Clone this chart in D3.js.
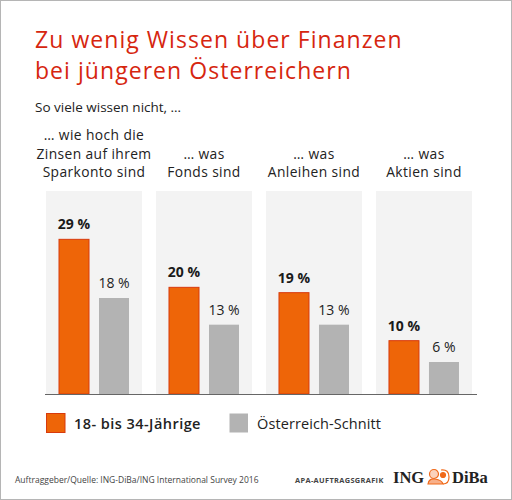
<!DOCTYPE html>
<html><head><meta charset="utf-8">
<script src="https://cdn.jsdelivr.net/npm/d3@7/dist/d3.min.js"></script>
<style>body{margin:0;background:#fff}svg{display:block}</style>
</head><body>
<script>
const categories = [
  ["… wie hoch die","Zinsen auf ihrem","Sparkonto sind"],
  ["… was","Fonds sind"],
  ["… was","Anleihen sind"],
  ["… was","Aktien sind"]
];
const young = [29, 20, 19, 10];
const average = [18, 13, 13, 6];
const seriesNames = ["18- bis 34-Jährige", "Österreich-Schnitt"];

const W = 512, H = 500;
const svg = d3.select("body").append("svg").attr("width", W).attr("height", H);
const font = "'Open Sans', 'Noto Sans', sans-serif";
svg.append("rect").attr("x",0.5).attr("y",0.5).attr("width",W-1).attr("height",H-1)
  .attr("fill","#fff").attr("stroke","#b5b5b5");

svg.append("text").attr("x",35).attr("y",48).attr("font-family",font).attr("font-size",23)
  .attr("letter-spacing",1.05).attr("fill","#d6260f").text("Zu wenig Wissen über Finanzen");
svg.append("text").attr("x",35).attr("y",79).attr("font-family",font).attr("font-size",23)
  .attr("letter-spacing",1.05).attr("fill","#d6260f").text("bei jüngeren Österreichern");
svg.append("text").attr("x",35).attr("y",112).attr("font-family",font).attr("font-size",13.5)
  .attr("fill","#222").text("So viele wissen nicht, …");

const x = d3.scaleBand().domain(d3.range(categories.length)).range([46, 472]).paddingInner(0.127).paddingOuter(0);
const y = d3.scaleLinear().domain([0, 30]).range([394, 234]);
const bw = x.bandwidth();

// column backgrounds
svg.selectAll(".bg").data(categories).join("rect")
  .attr("x",(d,i)=>x(i)).attr("y",191).attr("width",bw).attr("height",y(0)-191).attr("fill","#f3f3f3");

// category labels
categories.forEach((lines,i)=>{
  const cx = x(i)+bw/2;
  const n = lines.length;
  lines.forEach((t,j)=>{
    svg.append("text").attr("x",cx).attr("y",177-(n-1-j)*18.3).attr("text-anchor","middle")
      .attr("font-family",font).attr("font-size",13.8).attr("letter-spacing",0.4).attr("fill","#222").text(t);
  });
});

const barW = 30;
const offY = 13, offA = 53;
svg.selectAll(".by").data(young).join("rect")
  .attr("x",(d,i)=>x(i)+offY).attr("y",d=>y(d)).attr("width",barW).attr("height",d=>y(0)-y(d))
  .attr("fill","#ee6508").attr("stroke","#d83a0c").attr("stroke-width",1);
svg.selectAll(".ba").data(average).join("rect")
  .attr("x",(d,i)=>x(i)+offA).attr("y",d=>y(d)).attr("width",barW).attr("height",d=>y(0)-y(d))
  .attr("fill","#b3b3b3");

svg.selectAll(".ly").data(young).join("text")
  .attr("x",(d,i)=>x(i)+offY+barW/2).attr("y",d=>y(d)-10).attr("text-anchor","middle")
  .attr("font-family",font).attr("font-size",14).attr("font-weight","bold").attr("fill","#1a1a1a")
  .text(d=>d+" %");
svg.selectAll(".la").data(average).join("text")
  .attr("x",(d,i)=>x(i)+offA+barW/2).attr("y",d=>y(d)-10).attr("text-anchor","middle")
  .attr("font-family",font).attr("font-size",14).attr("fill","#222")
  .text(d=>d+" %");

svg.append("line").attr("x1",45).attr("x2",477).attr("y1",y(0)+0.5).attr("y2",y(0)+0.5)
  .attr("stroke","#666").attr("stroke-width",1);

// legend
const leg = [{x:46, fill:"#ee6508", stroke:"#d83a0c", w:"600", ls:0.45},{x:229, fill:"#b3b3b3", stroke:"none", w:"normal", ls:0.1}];
leg.forEach((l,i)=>{
  svg.append("rect").attr("x",l.x+0.5).attr("y",413.5).attr("width",18.5).attr("height",19)
    .attr("fill",l.fill).attr("stroke",l.stroke);
  svg.append("text").attr("x",l.x+28).attr("y",428.5).attr("font-family",font).attr("font-size",14.5)
    .attr("letter-spacing",l.ls).attr("font-weight",l.w).attr("fill","#222").text(seriesNames[i]);
});

// footer
svg.append("text").attr("x",15).attr("y",483).attr("font-family",font).attr("font-size",8.5)
  .attr("fill","#444").text("Auftraggeber/Quelle: ING-DiBa/ING International Survey 2016");
svg.append("text").attr("x",295).attr("y",483).attr("font-family",font).attr("font-size",7.4)
  .attr("letter-spacing",0.35).attr("font-weight","bold").attr("fill","#444").text("APA-AUFTRAGSGRAFIK");
svg.append("text").attr("x",393).attr("y",483).attr("font-family","'Liberation Serif', 'DejaVu Serif', serif")
  .attr("font-size",16.5).attr("font-weight","bold").attr("fill","#222").text("ING");
svg.append("text").attr("x",452).attr("y",483).attr("font-family","'Liberation Serif', 'DejaVu Serif', serif")
  .attr("font-size",16.5).attr("font-weight","bold").attr("fill","#222").text("DiBa");
// simple lion mark
const lion = svg.append("g").attr("transform","translate(439,476)").attr("stroke","#f06a1a").attr("stroke-width",1.2);
lion.append("circle").attr("cx",-5).attr("cy",-2).attr("r",4.5).attr("fill","#fbd2bb");
lion.append("path").attr("d","M-11,8 Q-10,2 -4,3 Q3,4 4,8 Z").attr("fill","#f8b08a");
lion.append("path").attr("d","M2,-6 Q10,-7 10,1 Q10,8 4,8").attr("fill","none");
lion.append("circle").attr("cx",4).attr("cy",-1).attr("r",2.5).attr("fill","#f06a1a");
</script>
</body></html>
